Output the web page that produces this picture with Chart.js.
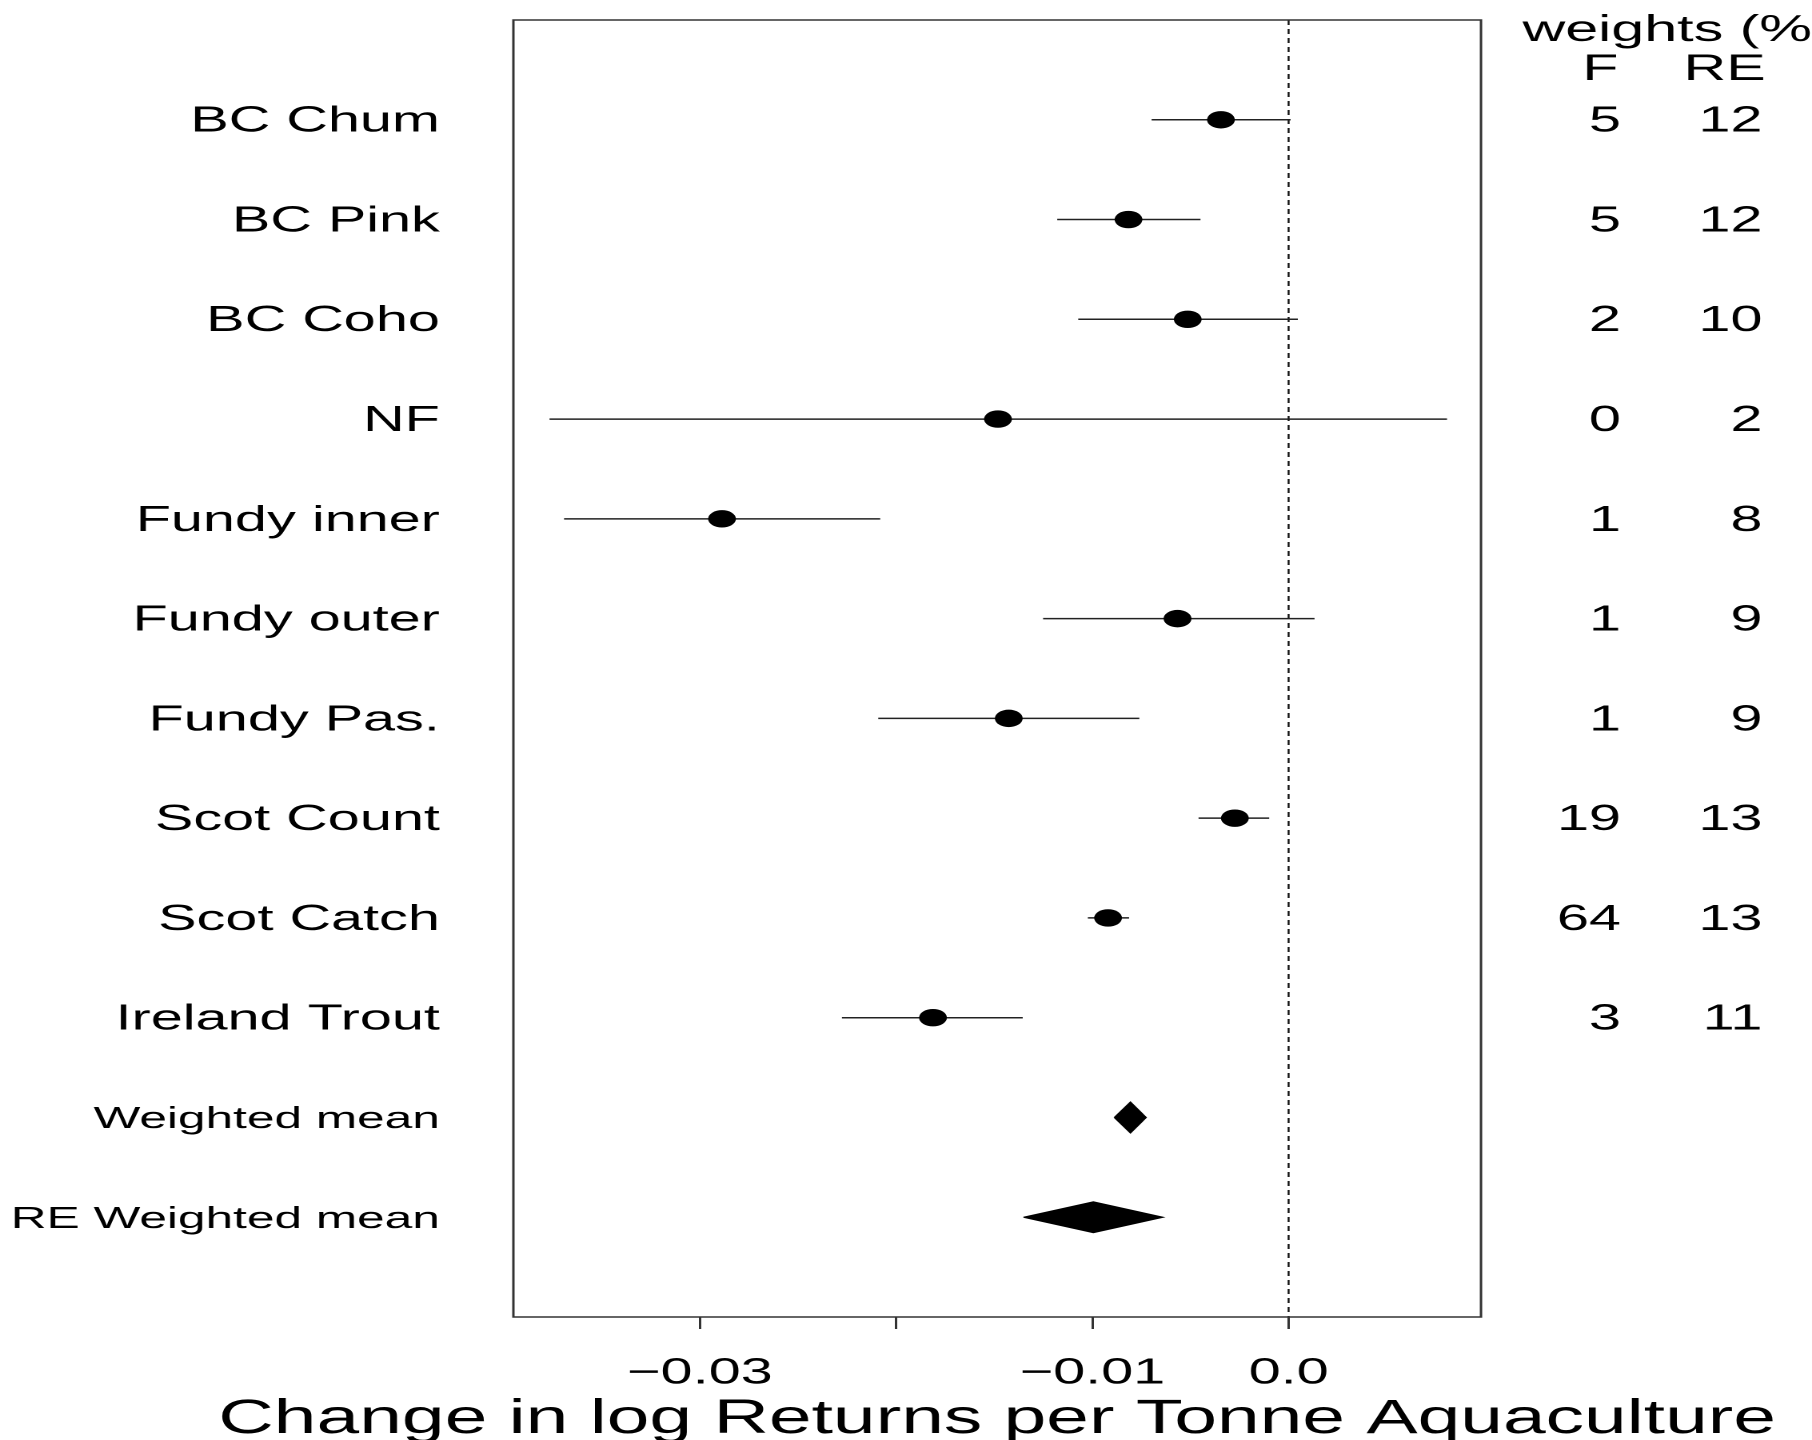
<!DOCTYPE html>
<html>
<head>
<meta charset="utf-8">
<script src="https://cdn.jsdelivr.net/npm/chart.js@4"></script>
<style>
html, body { margin: 0; padding: 0; background: #fff; overflow: hidden; }
/* the original figure is stretched sideways, so draw narrow and widen */
#wrap { width: 1133px; height: 1440px; transform: scaleX(1.5993); transform-origin: 0 0; }
</style>
</head>
<body>
<div id="wrap"><canvas id="chart"></canvas></div>
<script>
const studies = ['BC Chum', 'BC Pink', 'BC Coho', 'NF', 'Fundy inner', 'Fundy outer', 'Fundy Pas.', 'Scot Count', 'Scot Catch', 'Ireland Trout'];
const est    = [-0.00345, -0.00816, -0.00514, -0.01481, -0.02887, -0.00566, -0.01426, -0.00274, -0.0092, -0.01812];
const ciLow  = [-0.00698, -0.01179, -0.01072, -0.03766, -0.03692, -0.01251, -0.02091, -0.00459, -0.01023, -0.02276];
const ciHigh = [0.0001, -0.00449, 0.00047, 0.00807, -0.02081, 0.00132, -0.00761, -0.00099, -0.00813, -0.01355];
const weightF  = [5, 5, 2, 0, 1, 1, 1, 19, 64, 3];
const weightRE = [12, 12, 10, 2, 8, 9, 9, 13, 13, 11];

const summaryLabels = ['Weighted mean', 'RE Weighted mean'];
const summaryEst  = [-0.00806, -0.00995];
const summaryLow  = [-0.00888, -0.01351];
const summaryHigh = [-0.00726, -0.00639];

const xTicks = [-0.03, -0.02, -0.01, 0];
const xTickLabels = ['\u22120.03', '', '\u22120.01', '0.0'];
const xTitle = 'Change in log Returns per Tonne Aquaculture';

const allLabels = studies.concat(summaryLabels);
const FONT = '"Liberation Sans", Arial, Helvetica, sans-serif';
const diamondHalf = 0.155;

Chart.defaults.font.family = FONT;
Chart.defaults.color = '#000';

const ciSets = studies.map((s, i) => ({
  data: [{ x: ciLow[i], y: i + 1 }, { x: ciHigh[i], y: i + 1 }],
  showLine: true, borderColor: '#222', borderWidth: 1.5, pointRadius: 0
}));

const diamondSets = summaryLabels.map((s, j) => {
  const yv = studies.length + j + 1;
  return {
    data: [
      { x: summaryLow[j], y: yv },
      { x: summaryEst[j], y: yv - diamondHalf },
      { x: summaryHigh[j], y: yv },
      { x: summaryEst[j], y: yv + diamondHalf },
      { x: summaryLow[j], y: yv }
    ],
    showLine: true, fill: 'shape', backgroundColor: '#000', borderColor: '#000', borderWidth: 1, pointRadius: 0
  };
});

const frame = {
  id: 'frame',
  afterDatasetsDraw(chart) {
    const { ctx, chartArea: a } = chart;
    ctx.save();
    ctx.strokeStyle = '#333';
    ctx.lineWidth = 1.5;
    ctx.strokeRect(a.left, a.top, a.right - a.left, a.bottom - a.top);
    ctx.restore();
  }
};

// weights columns on the right and the x axis title (drawn here so it is not squeezed)
const sideText = {
  id: 'sideText',
  afterDraw(chart) {
    const ctx = chart.ctx, y = chart.scales.y, a = chart.chartArea;
    ctx.save();
    ctx.fillStyle = '#000';
    ctx.textBaseline = 'middle';
    ctx.font = '37px ' + FONT;
    ctx.textAlign = 'left';
    ctx.fillText('weights (%)', 952, 31);
    ctx.textAlign = 'right';
    ctx.fillText('F', 1012, 70);
    ctx.fillText('RE', 1104, 70);
    ctx.font = '36px ' + FONT;
    studies.forEach((s, i) => {
      const py = y.getPixelForValue(i + 1) + 2;
      ctx.fillText(String(weightF[i]), 1013.5, py);
      ctx.fillText(String(weightRE[i]), 1102, py);
    });
    ctx.textAlign = 'center';
    ctx.textBaseline = 'alphabetic';
    ctx.font = '48px ' + FONT;
    ctx.fillText(xTitle, (a.left + a.right) / 2, 1433);
    ctx.restore();
  }
};

new Chart(document.getElementById('chart'), {
  type: 'scatter',
  data: {
    datasets: [
      {
        data: est.map((v, i) => ({ x: v, y: i + 1 })),
        pointRadius: 8.7, pointBackgroundColor: '#000', pointBorderWidth: 0, showLine: false
      },
      ...ciSets,
      ...diamondSets,
      {
        data: [{ x: 0, y: 0 }, { x: 0, y: allLabels.length + 1 }],
        showLine: true, borderColor: '#111', borderWidth: 1.2, borderDash: [5, 4], pointRadius: 0
      }
    ]
  },
  options: {
    responsive: true,
    maintainAspectRatio: false,
    animation: false,
    devicePixelRatio: 2,
    events: [],
    layout: { padding: { top: 20, right: 207, bottom: 0, left: 0 } },
    plugins: { legend: { display: false }, tooltip: { enabled: false } },
    scales: {
      x: {
        type: 'linear',
        min: -0.0395,
        max: 0.0098,
        afterBuildTicks: s => { s.ticks = xTicks.map(v => ({ value: v })); },
        afterFit: s => { s.height = 123; s.paddingLeft = 0; s.paddingRight = 0; },
        ticks: {
          font: { size: 36 }, padding: 23, maxRotation: 0, autoSkip: false,
          callback: (v, i) => xTickLabels[i]
        },
        grid: { drawOnChartArea: false, drawTicks: true, tickLength: 12, color: '#333', lineWidth: 1.5 },
        border: { display: false }
      },
      y: {
        type: 'linear',
        reverse: true,
        min: 0,
        max: allLabels.length + 1,
        afterBuildTicks: s => { s.ticks = allLabels.map((l, i) => ({ value: i + 1 })); },
        afterFit: s => { s.width = 321; s.paddingTop = 0; s.paddingBottom = 0; },
        ticks: {
          padding: 46, autoSkip: false, labelOffset: 2,
          font: c => ({ size: c.index >= studies.length ? 31 : 36 }),
          callback: v => allLabels[v - 1]
        },
        grid: { display: false, drawTicks: false },
        border: { display: false }
      }
    }
  },
  plugins: [frame, sideText]
});
</script>
</body>
</html>
